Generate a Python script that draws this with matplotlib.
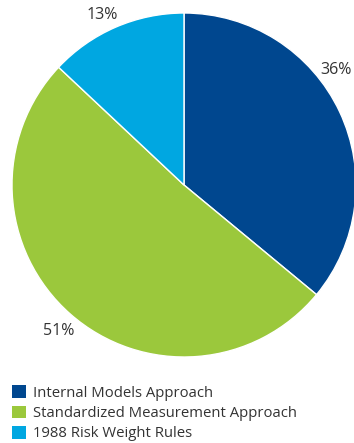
import matplotlib.pyplot as plt
from matplotlib.patches import Patch
import numpy as np

plt.rcParams['font.family'] = ['Open Sans', 'DejaVu Sans']

categories = ["Internal Models Approach", "Standardized Measurement Approach", "1988 Risk Weight Rules"]
shares = [36, 51, 13]
colors = ["#00478f", "#9bc83c", "#00a7e1"]

# label placement (angle in degrees, distance in radii) for each slice
label_pos = [(37, 1.11), (229.4, 1.12), (115.7, 1.10)]

fig = plt.figure(figsize=(3.54, 4.43), dpi=100)
ax = fig.add_axes([12 / 354, (443 - 357) / 443, 344 / 354, 344 / 443])

wedges, _ = ax.pie(shares, colors=colors, startangle=90, counterclock=False,
                   wedgeprops=dict(edgecolor="white", linewidth=1))
ax.set_xlim(-1, 1)
ax.set_ylim(-1, 1)
ax.set_aspect("equal")

for v, (ang, d) in zip(shares, label_pos):
    a = np.radians(ang)
    ax.text(d * np.cos(a), d * np.sin(a), f"{v}%", ha="center", va="center",
            fontsize=11.5, color="#333333", clip_on=False)

handles = [Patch(facecolor=c, edgecolor="none") for c in colors]
fig.legend(handles, categories, loc="upper left", bbox_to_anchor=(0.034, 0.130),
           frameon=False, fontsize=10.7, handlelength=0.94, handleheight=0.94,
           handletextpad=0.5, labelspacing=0.32, borderpad=0, borderaxespad=0,
           labelcolor="#333333")

fig.savefig("out.png", dpi=100)
